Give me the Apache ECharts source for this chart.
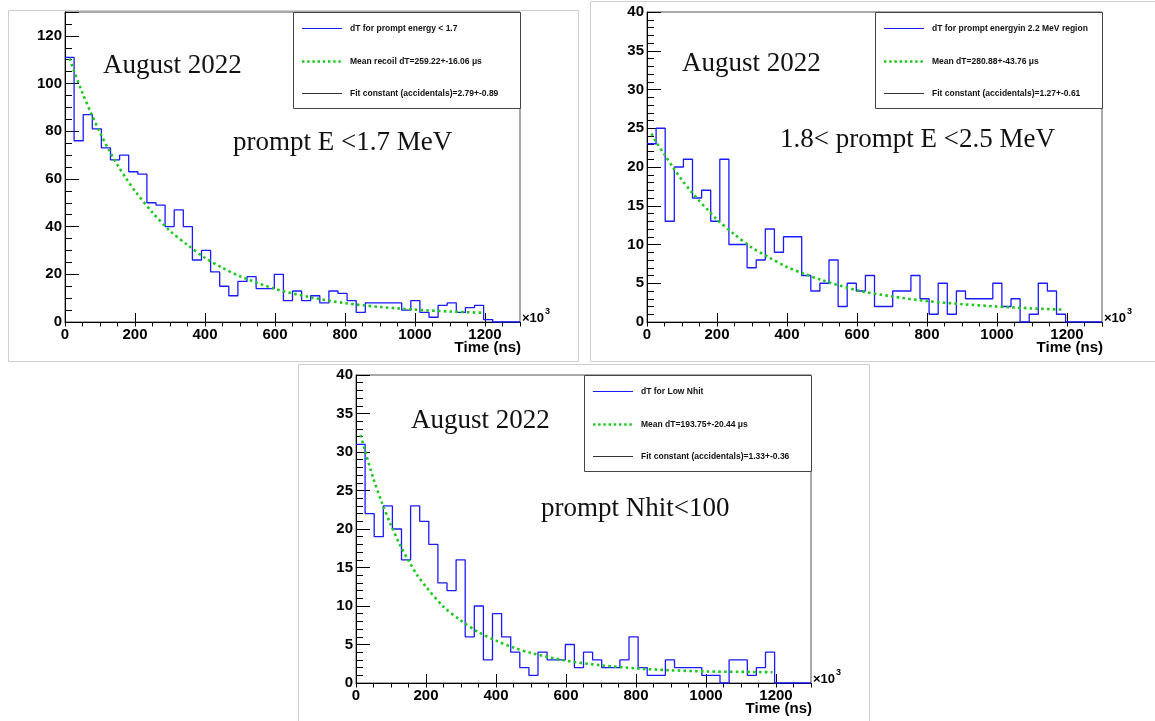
<!DOCTYPE html>
<html>
<head>
<meta charset="utf-8">
<script src="https://cdn.jsdelivr.net/npm/echarts@6/dist/echarts.min.js"></script>
<style>
html,body{margin:0;padding:0;background:#fff;}
#c{width:1155px;height:721px;}
</style>
</head>
<body>
<div id="c"></div>
<script>
// ---------- DATA ----------
const binWidth = 26; // bin width in units of 10^3 ns (50 bins over 0..1300)

// Panel 1: prompt E < 1.7 MeV
const hist1 = [111,76,87,81,73,68,70,63,62,50,49,40,47,40,26,30,21,15,11,17,19,14,14,20,9,13,9,11,8,13,12,9,4,8,8,8,8,5,9,4,2,7,8,4,6,7,1,0,0,0];
const fit1 = [[13,110.5],[25,105.5],[50,96],[75,87.4],[100,79.4],[125,72.3],[150,65.9],[175,60.1],[200,54.9],[250,45.9],[300,38.2],[350,32.3],[400,26.9],[450,22.7],[500,19.2],[600,13.9],[700,10.4],[800,7.9],[900,6.3],[1000,5.2],[1100,4.4],[1190,3.9]];

// Panel 2: 1.8 < prompt E < 2.5 MeV
const hist2 = [23,25,13,20,21,16,17,13,21,10,10,7,8,12,9,11,11,6,4,5,8,2,5,4,6,2,2,4,4,6,3,1,5,1,4,3,3,3,5,2,3,0,1,5,4,1,0,0,0,0];
const fit2 = [[13,24.3],[25,23.3],[50,21.6],[75,19.9],[100,18.3],[125,16.9],[150,15.6],[175,14.4],[200,13.2],[250,11.3],[300,9.6],[350,8.3],[400,7.1],[450,6.2],[500,5.4],[600,4.1],[700,3.3],[800,2.7],[900,2.3],[1000,2.0],[1100,1.75],[1190,1.6]];

// Panel 3: prompt Nhit < 100
const hist3 = [31,22,19,23,20,16,23,21,18,13,12,16,6,10,3,9,6,4,2,1,4,3,3,5,2,4,3,2,2,3,6,2,1,1,3,2,2,2,1,1,0,3,3,1,2,4,0,0,0,0];
const fit3 = [[13,32.2],[25,30.3],[50,26.5],[75,23.3],[100,20.5],[125,18.0],[150,15.9],[175,14.0],[200,12.5],[250,9.9],[300,8.1],[350,6.6],[400,5.5],[450,4.6],[500,3.9],[600,2.9],[700,2.3],[800,1.9],[900,1.65],[1000,1.5],[1100,1.45],[1190,1.4]];

// Axis ranges / ticks
const xMin = 0, xMax = 1300, xMajor = 200, xMinor = 50;
const yMax1 = 130, yMajor1 = 20, yMinor1 = 5;
const yMax2 = 40,  yMajor2 = 5,  yMinor2 = 1;
const yMax3 = 40,  yMajor3 = 5,  yMinor3 = 1;

// Texts
const legend1 = ['dT for prompt energy < 1.7', 'Mean recoil dT=259.22+-16.06 μs', 'Fit constant (accidentals)=2.79+-0.89'];
const legend2 = ['dT for prompt energyin 2.2 MeV region', 'Mean dT=280.88+-43.76 μs', 'Fit constant (accidentals)=1.27+-0.61'];
const legend3 = ['dT for Low Nhit', 'Mean dT=193.75+-20.44 μs', 'Fit constant (accidentals)=1.33+-0.36'];
const dateLabel = 'August 2022';
const cut1 = 'prompt E <1.7 MeV';
const cut2 = '1.8< prompt E <2.5 MeV';
const cut3 = 'prompt Nhit<100';
const xTitle = 'Time (ns)';

// ---------- LAYOUT ----------
const panels = [
  {grid:{left:65, top:12, width:455, height:310}, frame:[8,10,570,351],
   hist:hist1, fit:fit1, ymax:yMax1, ymaj:yMajor1, ymin:yMinor1, legend:legend1,
   date:[103,66], cut:cut1, cutPos:[233,143]},
  {grid:{left:647, top:12, width:455, height:310}, frame:[590,1,570,360],
   hist:hist2, fit:fit2, ymax:yMax2, ymaj:yMajor2, ymin:yMinor2, legend:legend2,
   date:[682,64], cut:cut2, cutPos:[780,140]},
  {grid:{left:356, top:375, width:455, height:308}, frame:[298,364,571,360],
   hist:hist3, fit:fit3, ymax:yMax3, ymaj:yMajor3, ymin:yMinor3, legend:legend3,
   date:[411,421], cut:cut3, cutPos:[541,509]}
];

const BLUE = '#1a1aff', GREEN = '#1ec81e';
const sans = '"Liberation Sans", Arial, Helvetica, sans-serif';
const serif = '"Liberation Serif", "Times New Roman", serif';

const grids = [], xAxes = [], yAxes = [], series = [], graphics = [];

panels.forEach((p, i) => {
  grids.push(Object.assign({show:true, borderColor:'#555', borderWidth:1, backgroundColor:'transparent'}, p.grid));
  // major x axis
  xAxes.push({
    gridIndex:i, type:'value', min:xMin, max:xMax, interval:xMajor,
    axisLine:{show:true, onZero:false, lineStyle:{color:'#000', width:1}},
    axisTick:{show:true, inside:true, length:9, lineStyle:{color:'#000'}},
    axisLabel:{show:true, margin:5, color:'#000', fontFamily:sans, fontWeight:'bold', fontSize:15,
      showMaxLabel:false,
      formatter:(v)=> (v % xMajor === 0 && v <= 1200) ? String(v) : ''},
    splitLine:{show:false}
  });
  // minor x axis
  xAxes.push({
    gridIndex:i, type:'value', min:xMin, max:xMax, interval:xMinor,
    axisLine:{show:false}, axisLabel:{show:false}, splitLine:{show:false},
    axisTick:{show:true, inside:true, length:4.5, lineStyle:{color:'#000'}}
  });
  // major y axis
  yAxes.push({
    gridIndex:i, type:'value', min:0, max:p.ymax, interval:p.ymaj, position:'left',
    axisLine:{show:true, onZero:false, lineStyle:{color:'#000', width:1}},
    axisTick:{show:true, inside:true, length:14, lineStyle:{color:'#000'}},
    axisLabel:{show:true, margin:3, color:'#000', fontFamily:sans, fontWeight:'bold', fontSize:15,
      showMaxLabel:true,
      formatter:(v)=> (v % p.ymaj === 0) ? String(v) : ''},
    splitLine:{show:false}
  });
  // minor y axis
  yAxes.push({
    gridIndex:i, type:'value', min:0, max:p.ymax, interval:p.ymin, position:'left',
    axisLine:{show:false}, axisLabel:{show:false}, splitLine:{show:false},
    axisTick:{show:true, inside:true, length:7, lineStyle:{color:'#000'}}
  });

  const stepData = p.hist.map((v, k) => [k * binWidth, v]);
  stepData.push([p.hist.length * binWidth, p.hist[p.hist.length - 1]]);
  series.push({
    type:'line', xAxisIndex:2*i, yAxisIndex:2*i, step:'end', data:stepData,
    showSymbol:false, symbol:'none', lineStyle:{color:BLUE, width:1.3}, z:3, silent:true, animation:false
  });
  series.push({
    type:'line', xAxisIndex:2*i, yAxisIndex:2*i, data:p.fit, smooth:0.3,
    showSymbol:false, symbol:'none', lineStyle:{color:GREEN, width:2.6, type:[2.6, 3.2], cap:'butt'}, z:4, silent:true, animation:false
  });

  const gl = p.grid.left, gt = p.grid.top, gr = gl + p.grid.width, gb = gt + p.grid.height;

  // panel frame (light gray)
  graphics.push({type:'rect', silent:true, z:0,
    shape:{x:p.frame[0]+0.5, y:p.frame[1]+0.5, width:p.frame[2], height:p.frame[3]},
    style:{fill:'transparent', stroke:'#cfcfcf', lineWidth:1}});

  // legend box
  const bx = gr - 227, by = gt, bw = 227, bh = 96;
  graphics.push({type:'rect', silent:true, z:10,
    shape:{x:bx+0.5, y:by+0.5, width:bw, height:bh},
    style:{fill:'#fff', stroke:'#444', lineWidth:1}});
  const rows = [16, 49, 81];
  const sampleColors = [BLUE, GREEN, '#333'];
  const sampleWidths = [1.2, 2.4, 1];
  rows.forEach((ry, r) => {
    const st = {stroke:sampleColors[r], lineWidth:sampleWidths[r]};
    if (r === 1) st.lineDash = [2.4, 2.8];
    graphics.push({type:'line', silent:true, z:11,
      shape:{x1:bx+9, y1:by+ry+0.5, x2:bx+49, y2:by+ry+0.5}, style:st});
    graphics.push({type:'text', silent:true, z:11, x:bx+57, y:by+ry+0.5,
      style:{text:p.legend[r], fill:'#111', font:'bold 8.5px ' + sans,
        align:'left', verticalAlign:'middle', textAlign:'left', textVerticalAlign:'middle'}});
  });

  // annotations
  graphics.push({type:'text', silent:true, z:12, x:p.date[0], y:p.date[1],
    style:{text:dateLabel, fill:'#111', font:'27px ' + serif,
      align:'left', verticalAlign:'middle', textAlign:'left', textVerticalAlign:'middle'}});
  graphics.push({type:'text', silent:true, z:12, x:p.cutPos[0], y:p.cutPos[1],
    style:{text:p.cut, fill:'#111', font:'27px ' + serif,
      align:'left', verticalAlign:'middle', textAlign:'left', textVerticalAlign:'middle'}});

  // ×10^3 and axis title
  graphics.push({type:'text', silent:true, z:12, x:gr+2, y:gb+3,
    style:{text:'×10', fill:'#000', font:'bold 13px ' + sans,
      align:'left', verticalAlign:'bottom', textAlign:'left', textVerticalAlign:'bottom'}});
  graphics.push({type:'text', silent:true, z:12, x:gr+25, y:gb-6,
    style:{text:'3', fill:'#000', font:'bold 9px ' + sans,
      align:'left', verticalAlign:'bottom', textAlign:'left', textVerticalAlign:'bottom'}});
  graphics.push({type:'text', silent:true, z:12, x:gr+1, y:gb+26,
    style:{text:xTitle, fill:'#000', font:'bold 15px ' + sans,
      align:'right', verticalAlign:'middle', textAlign:'right', textVerticalAlign:'middle'}});
});

const chart = echarts.init(document.getElementById('c'), null, {renderer:'canvas'});
chart.setOption({
  animation:false,
  backgroundColor:'#fff',
  grid:grids, xAxis:xAxes, yAxis:yAxes, series:series, graphic:graphics
});
</script>
</body>
</html>
